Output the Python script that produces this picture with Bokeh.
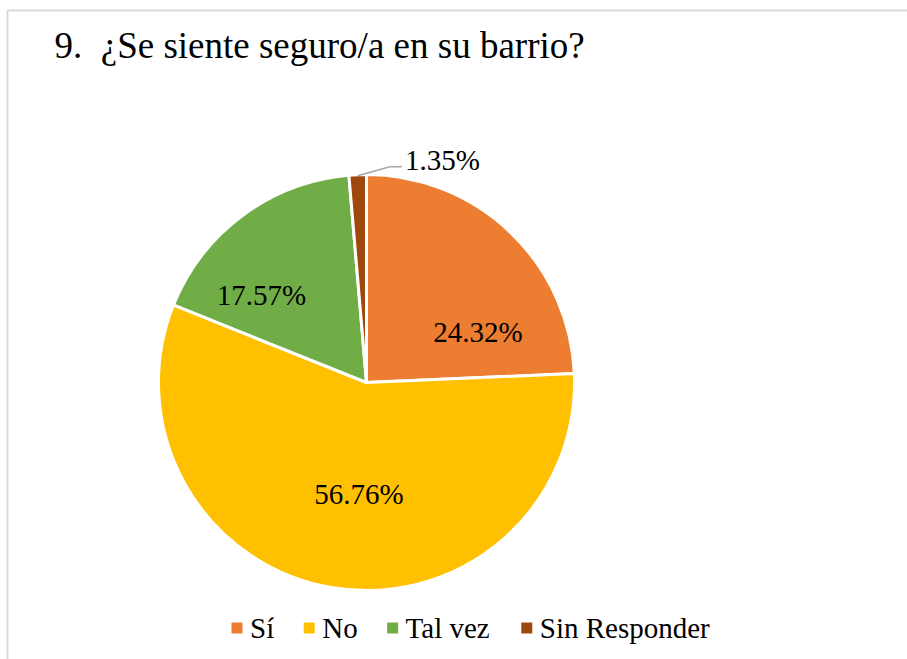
import math
from bokeh.plotting import figure
from bokeh.models import ColumnDataSource, Range1d, Label
from bokeh.embed import file_html
from bokeh.resources import INLINE

# ---- data ----
categories = ["Sí", "No", "Tal vez", "Sin Responder"]
percentages = [24.32, 56.76, 17.57, 1.35]
colors = ["#ED7D31", "#FFC000", "#70AD47", "#9E480E"]
title_text = "9.\u00a0\u00a0¿Se siente seguro/a en su barrio?"

# ---- layout (frame is 1:1 with screen pixels, y measured from bottom) ----
W, H = 907, 659
cx, cy = 366, 277          # pie centre
R = 208                    # pie radius (px)
# label placement (angle in degrees from +x, radius in px) - Excel "best fit"
label_angle = [24.4, -93.85, 140.0, 71.2]
label_radius = [122.4, 111.75, 137.0, 235.6]
FONT = "Liberation Serif"
LABEL_PX = 29
# Times-metric advance widths (em) used to centre / chain left-anchored texts
ADV = {"%": 0.833, ".": 0.25, " ": 0.25, "S": 0.556, "í": 0.278, "N": 0.722,
       "T": 0.611, "a": 0.444, "l": 0.278, "v": 0.5, "e": 0.444, "z": 0.444,
       "i": 0.278, "n": 0.5, "R": 0.667, "s": 0.389, "p": 0.5, "o": 0.5,
       "d": 0.5, "r": 0.333}


def text_width(s, px):
    return sum(ADV.get(ch, 0.5) for ch in s) * px


total = sum(percentages)
starts, ends, mids = [], [], []
cum = 0.0
for v in percentages:
    a0 = math.pi / 2 - 2 * math.pi * cum / total
    cum += v
    a1 = math.pi / 2 - 2 * math.pi * cum / total
    starts.append(a0)
    ends.append(a1)
    mids.append((a0 + a1) / 2)

src = ColumnDataSource(dict(cat=categories, start=starts, end=ends, color=colors))

p = figure(width=W, height=H, output_backend="svg", toolbar_location=None,
           x_range=Range1d(0, W), y_range=Range1d(0, H), min_border=0)
p.axis.visible = False
p.grid.visible = False
p.outline_line_color = None

# chart border (left & top visible in the reference crop)
p.segment(x0=[7, 7], y0=[0, 649], x1=[7, W], y1=[649, 649],
          line_color="#D9D9D9", line_width=2)

wed = p.wedge(x=cx, y=cy, radius=R, radius_units="screen", start_angle="start",
              end_angle="end", direction="clock", fill_color="color",
              line_color="white", line_width=3, source=src)

# leader line for the small slice
i = 3
ex = cx + 207 * math.cos(mids[i])
ey = cy + 207 * math.sin(mids[i])
p.segment(x0=[ex, ex + 32], y0=[ey, ey + 9], x1=[ex + 32, ex + 44], y1=[ey + 9, ey + 9],
          line_color="#A6A6A6", line_width=1.5)

# data labels
for i, v in enumerate(percentages):
    txt = f"{v:.2f}%"
    a = math.radians(label_angle[i])
    mx = cx + label_radius[i] * math.cos(a)
    my = cy + label_radius[i] * math.sin(a)
    p.add_layout(Label(x=mx - text_width(txt, LABEL_PX) / 2, y=my - 0.554 * LABEL_PX,
                       text=txt, text_font=FONT, text_font_size=f"{LABEL_PX}px",
                       text_color="black"))

# title
p.add_layout(Label(x=54, y=594, text=title_text, text_font=FONT,
                   text_font_size="37px", text_color="black"))

# legend (drawn manually: square marker + label, chained left to right)
LEG_X0, LEG_SQ, LEG_STANDOFF, LEG_GAP = 231, 11, 7.5, 29.5
LEG_SQ_Y, LEG_TXT_Y = 31.5, 15.7
sq_x, txt_x = [], []
x = LEG_X0
for c in categories:
    sq_x.append(x + LEG_SQ / 2)
    txt_x.append(x + LEG_SQ + LEG_STANDOFF)
    x = txt_x[-1] + text_width(c, LABEL_PX) + LEG_GAP
p.rect(x=sq_x, y=[LEG_SQ_Y] * len(categories), width=LEG_SQ, height=LEG_SQ,
       width_units="screen", height_units="screen", fill_color=colors, line_color=None)
for c, tx in zip(categories, txt_x):
    p.add_layout(Label(x=tx, y=LEG_TXT_Y, text=c, text_font=FONT,
                       text_font_size=f"{LABEL_PX}px", text_color="black"))

open("out.html", "w").write(file_html(p, INLINE))
